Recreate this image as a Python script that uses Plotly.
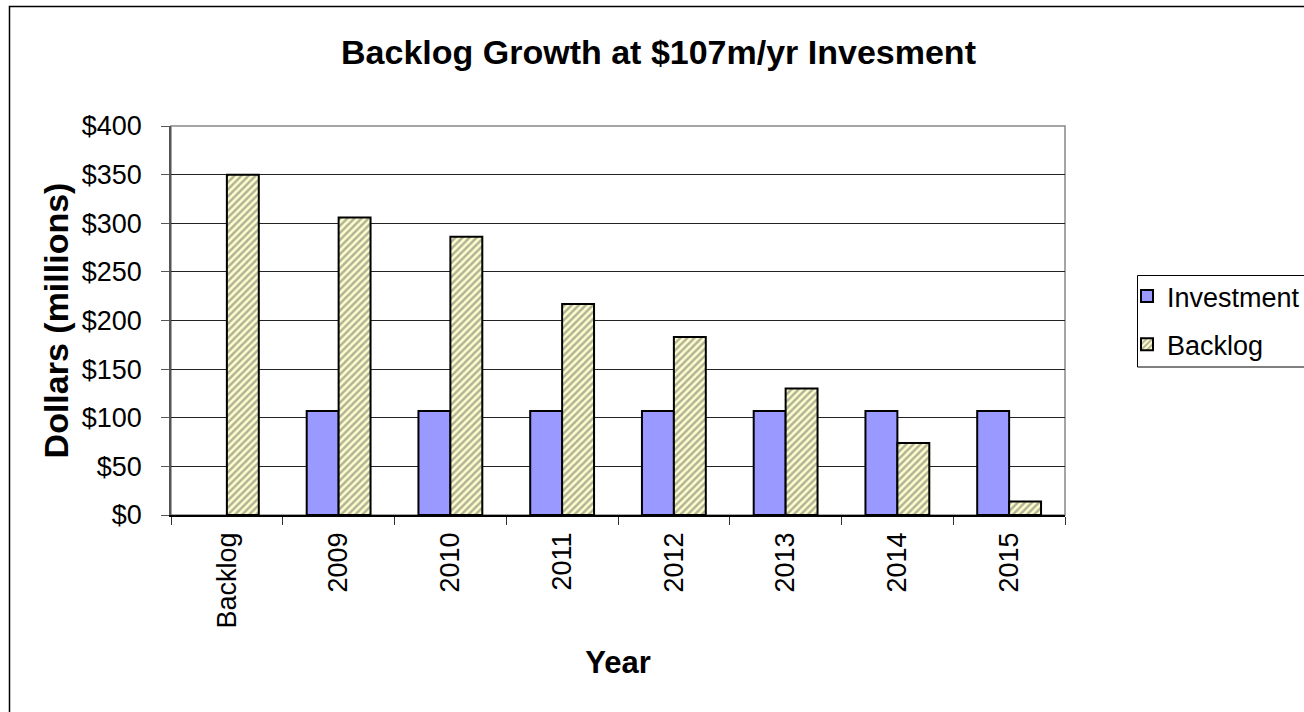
import plotly.graph_objects as go

categories = ["Backlog", "2009", "2010", "2011", "2012", "2013", "2014", "2015"]
investment = [None, 107, 107, 107, 107, 107, 107, 107]
backlog = [350, 306, 286, 217, 183, 130, 74, 14]

FONT = "Arial, Liberation Sans, sans-serif"

fig = go.Figure()
fig.add_trace(go.Bar(
    x=categories, y=investment, name="Investment", legendgroup="a",
    marker=dict(color="#9999FF", line=dict(color="#000000", width=2)),
))
fig.add_trace(go.Bar(
    x=categories, y=backlog, name="Backlog", legendgroup="b",
    marker=dict(color="#FFFFCC", line=dict(color="#000000", width=2),
                pattern=dict(shape="/", fgcolor="#666666", bgcolor="#FFFFCC",
                             size=5, solidity=0.5)),
))

PW = 894.0
PH = 389.0

fig.update_layout(
    width=1304, height=712,
    margin=dict(l=171, r=239, t=126, b=197, autoexpand=False),
    paper_bgcolor="white", plot_bgcolor="white",
    barmode="group", bargap=0.4286, bargroupgap=0,
    font=dict(family=FONT, size=27, color="black"),
    title=dict(text="<b>Backlog Growth at $107m/yr Invesment</b>",
               x=0.505, xanchor="center", y=0.927, yanchor="middle",
               font=dict(size=34, family=FONT)),
    showlegend=True,
    legend=dict(x=(1127 - 171) / PW, xanchor="left", y=(515 - 272) / PH, yanchor="top",
                borderwidth=0, bgcolor="rgba(0,0,0,0)",
                font=dict(size=27, family=FONT),
                traceorder="grouped", tracegroupgap=10,
                itemwidth=30),
    xaxis=dict(
        type="category", tickangle=-90, tickson="boundaries",
        ticks="outside", ticklen=8, tickcolor="#333333",
        showline=True, linecolor="#000000", linewidth=1.5,
        ticklabelstandoff=5,
        title=dict(text="<b>Year</b>", font=dict(size=31), standoff=24),
        tickfont=dict(size=27),
    ),
    yaxis=dict(
        range=[0, 400], dtick=50, tickprefix="$",
        ticks="outside", ticklen=8, tickcolor="#555555",
        showline=True, linecolor="#555555", linewidth=1.5,
        showgrid=True, gridcolor="#222222", gridwidth=1,
        zeroline=False,
        ticklabelstandoff=14,
        title=dict(text="<b>Dollars (millions)</b>", font=dict(size=34), standoff=3),
        tickfont=dict(size=27),
    ),
    shapes=[
        dict(type="rect", xref="paper", yref="paper", x0=0, x1=1, y0=0, y1=1,
             line=dict(color="#888888", width=1.5), layer="below"),
        dict(type="rect", xref="paper", yref="paper",
             x0=(9.5 - 171) / PW, x1=(1340 - 171) / PW,
             y0=(515 - 730) / PH, y1=(515 - 6.5) / PH,
             line=dict(color="#000000", width=1.5), layer="below"),
        dict(type="rect", xref="paper", yref="paper",
             x0=(1137.5 - 171) / PW, x1=(1340 - 171) / PW,
             y0=(515 - 367) / PH, y1=(515 - 275.5) / PH,
             line=dict(color="#000000", width=1), fillcolor="white", layer="below"),
    ],
)

fig.write_html("out.html", config={"displayModeBar": False},
               post_script="document.body.style.margin='0';")
